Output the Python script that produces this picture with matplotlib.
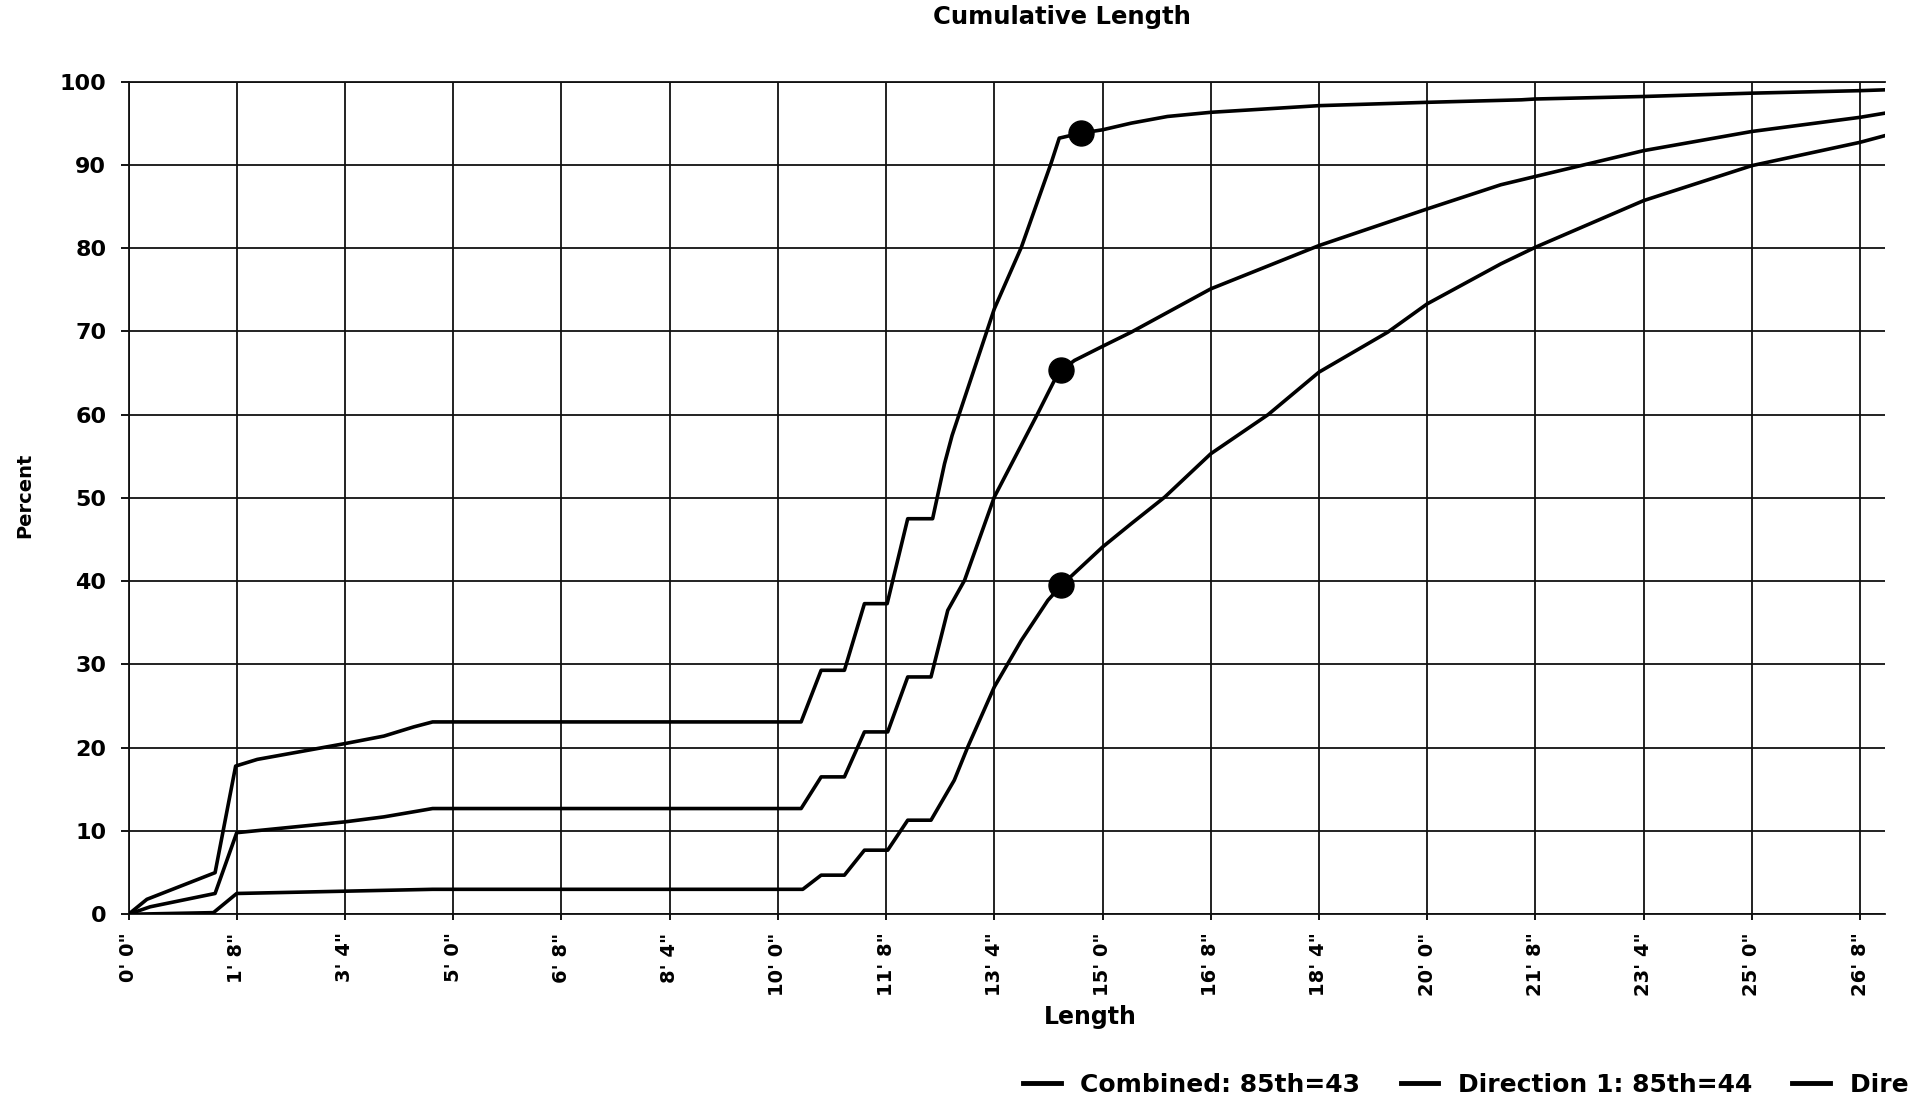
import matplotlib
matplotlib.use('Agg')
import matplotlib.pyplot as plt
from matplotlib.lines import Line2D

# lengths in inches, percent cumulative
combined_x = [0, 3.4, 16, 19.8, 23.8, 40, 47.2, 52.7, 56.2, 124.3, 128, 132.3, 136, 140.2, 144, 148.6,
              150.8, 152.2, 160, 165, 170.5, 172, 176, 180, 185.3, 192, 200, 220, 240, 257.4, 260,
              280, 300, 320, 324.6]
combined_y = [0, 1.8, 5.0, 17.8, 18.6, 20.5, 21.4, 22.5, 23.1, 23.1, 29.3, 29.3, 37.3, 37.3, 47.5, 47.5,
              54.1, 57.5, 72.7, 80.1, 90.2, 93.2, 93.8, 94.2, 95.0, 95.8, 96.3, 97.1, 97.5, 97.8, 97.9,
              98.2, 98.6, 98.9, 99.0]

dir1_x = [0, 4, 16, 20, 40, 47.2, 56.2, 124.3, 128, 132.3, 136, 140.3, 144, 148.3, 151.4, 154.5,
          160, 168, 171.1, 172.4, 174.8, 180, 185.3, 200, 220, 240, 253.6, 260, 280, 300, 320, 324.6]
dir1_y = [0, 0.9, 2.5, 9.8, 11.1, 11.7, 12.7, 12.7, 16.5, 16.5, 21.9, 21.9, 28.5, 28.5, 36.5, 40.1,
          50.1, 60.1, 64.1, 65.3, 66.5, 68.2, 69.9, 75.1, 80.3, 84.7, 87.6, 88.6, 91.7, 94.0, 95.7, 96.2]

dir2_x = [0, 15.7, 20, 56.2, 124.6, 128, 132.3, 136, 140.3, 144, 148.3, 152.6, 155.1, 160, 165,
          169.9, 172.4, 180, 185.3, 191.5, 200, 210.6, 220, 232.7, 240, 253.6, 260, 280, 300, 320, 324.6]
dir2_y = [0, 0.2, 2.5, 3.0, 3.0, 4.7, 4.7, 7.7, 7.7, 11.3, 11.3, 16.1, 20.1, 27.3, 32.9,
          37.7, 39.5, 44.1, 46.9, 50.1, 55.3, 60.0, 65.1, 69.9, 73.3, 78.1, 80.1, 85.7, 89.9, 92.7, 93.5]

# the dot on each curve
dot_x = [176, 172.4, 172.4]
dot_y = [93.8, 65.3, 39.5]

legend_labels = ["Combined: 85th=43", "Direction 1: 85th=44", "Direction 2: 85th=41"]

x_ticks = [0, 20, 40, 60, 80, 100, 120, 140, 160, 180, 200, 220, 240, 260, 280, 300, 320]
x_tick_labels = ["0' 0\"", "1' 8\"", "3' 4\"", "5' 0\"", "6' 8\"", "8' 4\"", "10' 0\"", "11' 8\"",
                 "13' 4\"", "15' 0\"", "16' 8\"", "18' 4\"", "20' 0\"", "21' 8\"", "23' 4\"",
                 "25' 0\"", "26' 8\""]
y_ticks = [0, 10, 20, 30, 40, 50, 60, 70, 80, 90, 100]

plt.rcParams['font.family'] = ['DejaVu Sans']
plt.rcParams['font.weight'] = 'bold'

W, H = 1909, 1104
fig = plt.figure(figsize=(W / 100, H / 100), dpi=100)
ax = fig.add_axes([128.5 / W, 1 - 914.3 / H, (1885 - 128.5) / W, (914.3 - 81.5) / H])

lw = 2.6
ax.plot(combined_x, combined_y, color='black', lw=lw, zorder=3)
ax.plot(dir1_x, dir1_y, color='black', lw=lw, zorder=3)
ax.plot(dir2_x, dir2_y, color='black', lw=lw, zorder=3)
ax.plot(dot_x, dot_y, 'o', color='black', ms=18, zorder=4)

ax.set_xlim(0, 324.6)
ax.set_ylim(0, 100)
ax.set_xticks(x_ticks)
ax.set_xticklabels(x_tick_labels, rotation=90, fontsize=14, fontweight='bold')
ax.set_yticks(y_ticks)
ax.set_yticklabels([str(v) for v in y_ticks], fontsize=16, fontweight='bold')
ax.tick_params(axis='y', direction='out', length=6, width=1.3, pad=10)
ax.tick_params(axis='x', direction='out', length=4, width=1.3, pad=9)
ax.grid(True, color='#111111', linewidth=1.3, zorder=1)
for side in ['left', 'bottom', 'top']:
    ax.spines[side].set_linewidth(1.3)
    ax.spines[side].set_color('#111111')
ax.spines['right'].set_visible(False)

fig.text(1062 / W, 1 - 17 / H, "Cumulative Length", ha='center', va='center',
         fontsize=17.5, fontweight='bold')
fig.text(1090 / W, 1 - 1017 / H, "Length", ha='center', va='center',
         fontsize=17, fontweight='bold')
fig.text(25 / W, 1 - 495 / H, "Percent", ha='center', va='center', rotation=90,
         fontsize=14, fontweight='bold')

# legend runs off the right edge, as in the source chart
handles = [Line2D([], [], color='black', lw=3.5) for _ in legend_labels]
fig.legend(handles, legend_labels, loc='center left', bbox_to_anchor=(1023 / W, 1 - 1085 / H),
           ncol=3, frameon=False, fontsize=18, borderpad=0, borderaxespad=0,
           handlelength=1.5, handletextpad=0.8, columnspacing=1.6)

fig.savefig('out.png', dpi=100)
